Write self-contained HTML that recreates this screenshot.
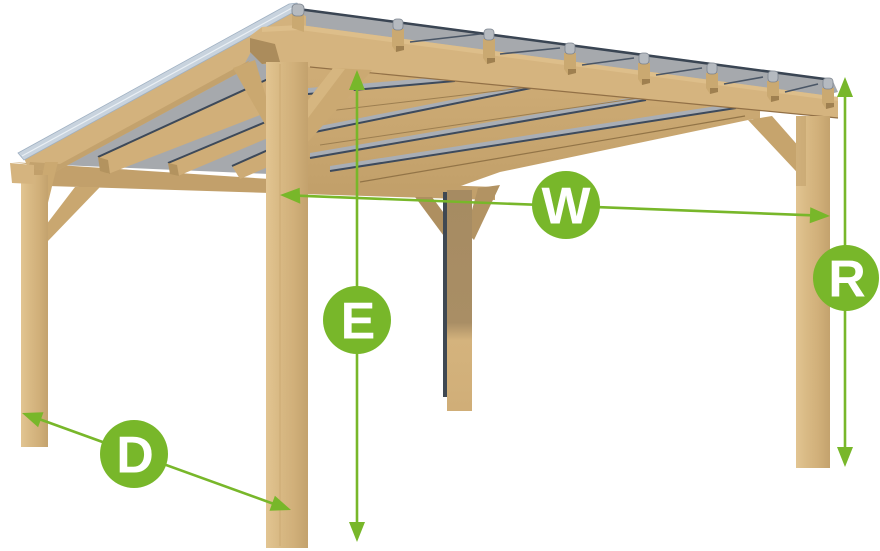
<!DOCTYPE html>
<html><head><meta charset="utf-8"><style>
html,body{margin:0;padding:0;background:#fff;}
svg{display:block;}
</style></head><body>
<svg width="880" height="551" viewBox="0 0 880 551" xmlns="http://www.w3.org/2000/svg">
<defs>
<linearGradient id="post" x1="0" x2="1" y1="0" y2="0">
 <stop offset="0" stop-color="#e2c592"/>
 <stop offset="0.3" stop-color="#d9ba85"/>
 <stop offset="0.65" stop-color="#d1b07a"/>
 <stop offset="1" stop-color="#c3a26d"/>
</linearGradient>
<linearGradient id="mid" x1="0" x2="0" y1="0" y2="1">
 <stop offset="0" stop-color="#a68b62"/>
 <stop offset="0.6" stop-color="#a98e65"/>
 <stop offset="0.68" stop-color="#d4b37d"/>
 <stop offset="1" stop-color="#d0ae78"/>
</linearGradient>
<linearGradient id="under" x1="0" x2="0" y1="0" y2="1">
 <stop offset="0" stop-color="#cfad77"/>
 <stop offset="1" stop-color="#c2a06a"/>
</linearGradient>
</defs>

<!-- roof gray -->
<polygon points="298,8 832,79 838,92 753,113 500,145 350,178 270,174 60,165 22,158" fill="#a6a9ad"/>
<line x1="298" y1="9" x2="832" y2="80" stroke="#3a4553" stroke-width="2.5"/>

<!-- back beam -->
<polygon points="12,162 270,179 495,187 495,200 270,193 48,186 34,184 34,165" fill="#c2a06b"/>

<!-- middle post & braces -->
<polygon points="415,197 432,197 460,235 452,247" fill="#ae8f60"/>
<polygon points="478,188 500,185 474,240 466,232" fill="#b29363"/>
<rect x="443" y="192" width="4" height="205" fill="#3f4852"/>
<rect x="447" y="190" width="25" height="221" fill="url(#mid)"/>

<!-- left group rafters -->
<polygon points="98,157 268,79 268,112 108,174" fill="#d1af79"/>
<line x1="98" y1="157" x2="268" y2="79" stroke="#3d4959" stroke-width="2"/>
<polygon points="98,157 108,160 110,174 100,171" fill="#b3935f"/>
<polygon points="168,163 268,121 268,138 178,176" fill="#cfad77"/>
<line x1="168" y1="163" x2="268" y2="121" stroke="#3d4959" stroke-width="2"/>
<polygon points="168,163 177,165 179,176 170,174" fill="#b3935f"/>
<polygon points="232,166 268,150 268,167 240,179" fill="#cdab75"/>
<line x1="232" y1="166" x2="268" y2="150" stroke="#3d4959" stroke-width="2"/>

<!-- right group underside -->
<polygon points="300,64 760,108 760,121 753,119 500,172 455,188 380,190 300,190" fill="url(#under)"/>
<polygon points="308,88 455,76 455,81 308,94" fill="#a9aeb5"/>
<line x1="308" y1="94" x2="455" y2="81" stroke="#3d4a5c" stroke-width="2"/>
<polygon points="310,128 531,84 531,88 310,133" fill="#a9aeb5"/>
<line x1="310" y1="133" x2="531" y2="88" stroke="#3d4a5c" stroke-width="2"/>
<polygon points="310,153 646,95 646,100 310,158" fill="#a9aeb5"/>
<line x1="310" y1="158" x2="646" y2="100" stroke="#3d4a5c" stroke-width="2"/>
<polygon points="330,166 736,103 736,108 330,171" fill="#a9aeb5"/>
<line x1="330" y1="171" x2="736" y2="108" stroke="#3d4a5c" stroke-width="2"/>
<line x1="360" y1="182" x2="745" y2="116" stroke="#927447" stroke-width="1.2"/>
<line x1="320" y1="112" x2="590" y2="80" stroke="#9c7e50" stroke-width="1"/>
<line x1="320" y1="145" x2="680" y2="92" stroke="#9c7e50" stroke-width="1"/>

<!-- side rafter & silver edge -->
<polygon points="24,158 292,11 306,16 306,30 262,32 240,72 55,172 28,168" fill="#d3b27d"/>
<polygon points="28,168 55,172 240,72 250,60 60,164 30,162" fill="#c3a26d"/>
<polygon points="18,153 289,4 297,3 302,10 292,13 24,160" fill="#c8d3de" stroke="#9fb0c2" stroke-width="0.8"/>
<line x1="22" y1="156" x2="292" y2="8" stroke="#e9eff4" stroke-width="1.2"/>

<!-- front beam -->
<polygon points="250,36 262,27 300,25 838,97 838,118 310,67 262,64 250,50" fill="#d5b47f"/>
<polygon points="262,27 300,25 838,97 838,101 300,30 262,32" fill="#ddbe8a"/>
<polygon points="250,38 275,44 280,62 262,64 250,52" fill="#ab8c5c"/>
<line x1="310" y1="67" x2="838" y2="118" stroke="#927046" stroke-width="1.2"/>

<!-- rafter end blocks & caps -->
<g fill="#caa971">
 <polygon points="292,13 304,13 304,32 292,28"/>
 <polygon points="392,29 404,29 404,50 396,52 392,46"/>
 <polygon points="483,39 495,39 495,62 487,64 483,58"/>
 <polygon points="564,53 576,53 576,73 568,75 564,69"/>
 <polygon points="638,63 650,63 650,83 642,85 638,79"/>
 <polygon points="706,73 718,73 718,92 710,94 706,88"/>
 <polygon points="767,81 779,81 779,100 771,102 767,96"/>
 <polygon points="822,88 834,88 834,107 826,109 822,103"/>
</g>
<g fill="#9f8050">
 <polygon points="396,46 404,46 404,50 396,52"/>
 <polygon points="487,58 495,58 495,62 487,64"/>
 <polygon points="568,69 576,69 576,73 568,75"/>
 <polygon points="642,79 650,79 650,83 642,85"/>
 <polygon points="710,88 718,88 718,92 710,94"/>
 <polygon points="771,96 779,96 779,100 771,102"/>
 <polygon points="826,103 834,103 834,107 826,109"/>
</g>
<g fill="#b5bac0" stroke="#7b838e" stroke-width="0.8">
 <rect x="292" y="4" width="12" height="12" rx="4"/>
 <rect x="393" y="19" width="10" height="11" rx="3.5"/>
 <rect x="484" y="29" width="10" height="11" rx="3.5"/>
 <rect x="565" y="43" width="10" height="11" rx="3.5"/>
 <rect x="639" y="53" width="10" height="11" rx="3.5"/>
 <rect x="707" y="63" width="10" height="11" rx="3.5"/>
 <rect x="768" y="71" width="10" height="11" rx="3.5"/>
 <rect x="823" y="78" width="10" height="11" rx="3.5"/>
</g>
<g stroke="#4a5666" stroke-width="1.6">
 <line x1="410" y1="42" x2="480" y2="34"/>
 <line x1="500" y1="54" x2="560" y2="48"/>
 <line x1="582" y1="65" x2="634" y2="58"/>
 <line x1="656" y1="75" x2="702" y2="68"/>
 <line x1="724" y1="84" x2="763" y2="77"/>
 <line x1="785" y1="92" x2="818" y2="84"/>
</g>

<!-- braces -->
<polygon points="233,68 255,60 267,100 267,128" fill="#caa870"/>
<polygon points="308,100 333,68 372,70 308,142" fill="#cba972"/>
<polygon points="308,100 333,68 345,69 308,118" fill="#d6b680"/>
<polygon points="748,120 772,116 808,157 808,184" fill="#c6a46d"/>
<polygon points="33,223 43,223 58,162 45,162" fill="#cba971"/>
<polygon points="46,225 75,187 100,187 47,242" fill="#c9a770"/>

<!-- posts -->
<rect x="21" y="175" width="27" height="272" fill="url(#post)"/>
<polygon points="10,163 34,165 34,184 12,183" fill="#d5b47f"/>
<rect x="796" y="116" width="34" height="352" fill="url(#post)"/>
<rect x="796" y="116" width="10" height="70" fill="#c3a26d" opacity="0.6"/>
<rect x="266" y="62" width="42" height="486" fill="url(#post)"/>
<line x1="280" y1="64" x2="280" y2="546" stroke="#cbaa73" stroke-width="1"/>

<!-- annotations -->
<g fill="#78b72a" stroke="none">
 <line x1="298" y1="195.7" x2="812" y2="215.3" stroke="#78b72a" stroke-width="2.6"/>
 <polygon points="280,195 300.3,203.8 299.7,187.8"/>
 <polygon points="830,216 810.3,207.2 809.7,223.2"/>
 <line x1="357" y1="88" x2="357" y2="524" stroke="#78b72a" stroke-width="2.6"/>
 <polygon points="357,70 349,90 365,90"/>
 <polygon points="357,542 349,522 365,522"/>
 <line x1="845" y1="95" x2="845" y2="449" stroke="#78b72a" stroke-width="2.6"/>
 <polygon points="845,77 837,97 853,97"/>
 <polygon points="845,467 837,447 853,447"/>
 <line x1="39" y1="419" x2="274" y2="504" stroke="#78b72a" stroke-width="2.6"/>
 <polygon points="22,413 38.1,427.3 43.5,412.3"/>
 <polygon points="291,510 269.5,510.7 274.9,495.7"/>
 <circle cx="566" cy="205" r="34"/>
 <circle cx="357" cy="320" r="34"/>
 <circle cx="846" cy="278" r="33"/>
 <circle cx="134" cy="454" r="34"/>
</g>
<g fill="#ffffff" font-family="'Liberation Sans', Arial, sans-serif" font-weight="bold" font-size="52" text-anchor="middle">
 <text x="566" y="223.5">W</text>
 <text x="358" y="338.5">E</text>
 <text x="847" y="296.5">R</text>
 <text x="135" y="472.5">D</text>
</g>
</svg>
</body></html>
